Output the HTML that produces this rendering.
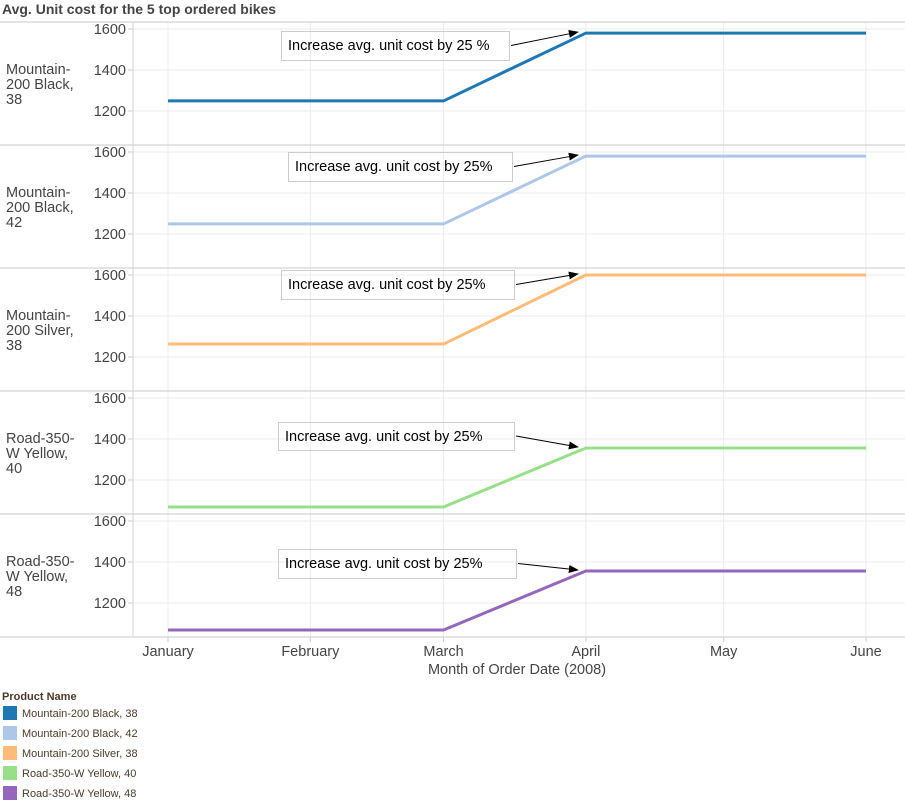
<!DOCTYPE html>
<html><head><meta charset="utf-8"><style>
body{margin:0;background:#fff;font-family:"Liberation Sans",Arial,sans-serif;}
svg{display:block}
</style></head><body>
<svg id="chart" width="905" height="805" xmlns="http://www.w3.org/2000/svg" font-family="Liberation Sans, Arial, sans-serif">
<text x="2" y="14" font-size="14" font-weight="bold" fill="#444">Avg. Unit cost for the 5 top ordered bikes</text>
<g id="panels"></g>
<text x="517" y="674" font-size="14.5" fill="#444" text-anchor="middle">Month of Order Date (2008)</text>
<g id="legend"></g>
</svg>
<script>
const months = ["January","February","March","April","May","June"];
const monthDay = [0,31,60,91,121,152];
const products = ["Mountain-200 Black, 38","Mountain-200 Black, 42","Mountain-200 Silver, 38","Road-350-W Yellow, 40","Road-350-W Yellow, 48"];
const rowLabels = [["Mountain-","200 Black,","38"],["Mountain-","200 Black,","42"],["Mountain-","200 Silver,","38"],["Road-350-","W Yellow,","40"],["Road-350-","W Yellow,","48"]];
const colors = ["#1f77b4","#aec7e8","#ffbb78","#98df8a","#9467bd"];
const series0 = [1249,1249,1249,1580,1580,1580];
const series1 = [1249,1249,1249,1580,1580,1580];
const series2 = [1263,1263,1263,1600,1600,1600];
const series3 = [1068,1068,1068,1356,1356,1356];
const series4 = [1068,1068,1068,1356,1356,1356];
const allSeries = [series0,series1,series2,series3,series4];
const yTicks = [1200,1400,1600];
const notes = ["Increase avg. unit cost by 25 %","Increase avg. unit cost by 25%","Increase avg. unit cost by 25%","Increase avg. unit cost by 25%","Increase avg. unit cost by 25%"];
const noteBoxes = [[281,31,228,29],[288,152,224,29],[281,270,233,29],[278,422,236,28],[278,549,238,29]];

const NS="http://www.w3.org/2000/svg";
const panelsG=document.getElementById('panels');
const top0=22, ph=123, x0=133, x1=905;
const yMin=1034, yMax=1634;
function xScale(i){return 168 + monthDay[i]*(866-168)/monthDay[monthDay.length-1];}
function yScale(v,p){return top0+p*ph + (yMax-v)/(yMax-yMin)*ph;}
function mk(tag,attrs,parent){const e=document.createElementNS(NS,tag);for(const k in attrs)e.setAttribute(k,attrs[k]);parent.appendChild(e);return e;}
const defs=mk('defs',{},panelsG);
const mkr=mk('marker',{id:'ah',markerWidth:10,markerHeight:8,refX:9,refY:4,orient:'auto',markerUnits:'userSpaceOnUse'},defs);
mk('path',{d:'M0,0 L10,4 L0,8 Z',fill:'#000'},mkr);

for(let p=0;p<allSeries.length;p++){
  const g=mk('g',{},panelsG);
  
  
  const pt=top0+p*ph;
  months.forEach((m,i)=>{const l=mk('line',{x1:xScale(i),x2:xScale(i),y1:pt,y2:pt+ph,stroke:'#ebebeb','stroke-width':1},g);
    });
  yTicks.forEach(t=>{const y=yScale(t,p);
    const l=mk('line',{x1:x0,x2:x1,y1:y,y2:y,stroke:'#ebebeb'},g);
    
    mk('line',{x1:x0-5,x2:x0,y1:y,y2:y,stroke:'#ccc'},g);
    const tx=mk('text',{x:x0-7,y:y+5,'font-size':14.5,fill:'#444','text-anchor':'end'},g);
    tx.textContent=t;
    
  });
  const rl=mk('text',{x:6,y:pt+52,'font-size':14.5,fill:'#444'},g);
  
  rowLabels[p].forEach((s,k)=>{const ts=mk('tspan',{x:6,dy:k?15:0},rl);ts.textContent=s;});
  const sep=mk('line',{x1:0,x2:x1,y1:pt,y2:pt,stroke:'#d4d4d4','stroke-width':1.2},g);
  
  const d=allSeries[p].map((v,i)=>(i?'L':'M')+xScale(i)+','+yScale(v,p)).join(' ');
  const path=mk('path',{d:d,fill:'none',stroke:colors[p],'stroke-width':3},g);
  
  const b=noteBoxes[p];
  const r=mk('rect',{x:b[0]+0.5,y:b[1]+0.5,width:b[2],height:b[3],fill:'none',stroke:'#ccc'},g);
  
  const at=mk('text',{x:b[0]+7,y:b[1]+19,'font-size':14.5,fill:'#000'},g);
  at.textContent=notes[p];
  
  const ax=xScale(3)-8, ay=yScale(allSeries[p][3],p)-1;
  const ar=mk('line',{x1:b[0]+b[2]+2,y1:b[1]+b[3]/2,x2:ax,y2:ay,stroke:'#000','stroke-width':1,'marker-end':'url(#ah)'},g);
  
}
const bl=mk('line',{x1:0,x2:x1,y1:top0+5*ph,y2:top0+5*ph,stroke:'#d4d4d4','stroke-width':1.2},panelsG);

const vl=mk('line',{x1:x0,x2:x0,y1:top0,y2:top0+5*ph,stroke:'#d4d4d4'},panelsG);

months.forEach((m,i)=>{
  mk('line',{x1:xScale(i),x2:xScale(i),y1:top0+5*ph,y2:top0+5*ph+5,stroke:'#ccc'},panelsG);
  const t=mk('text',{x:xScale(i),y:656,'font-size':14.5,fill:'#444','text-anchor':'middle'},panelsG);
  t.textContent=m;
  
});
const lg=document.getElementById('legend');
const lt=mk('text',{x:2,y:700,'font-size':11,'font-weight':'bold',fill:'#4a3a2a'},lg);
lt.textContent='Product Name';

products.forEach((n,i)=>{
  const y=706+i*20;
  const e=mk('g',{},lg);
  
  mk('rect',{x:3,y:y,width:14,height:14,fill:colors[i]},e);
  const t=mk('text',{x:22,y:y+11,'font-size':11,fill:'#4a3a2a'},e);
  t.textContent=n;
});
</script>
</body></html>
